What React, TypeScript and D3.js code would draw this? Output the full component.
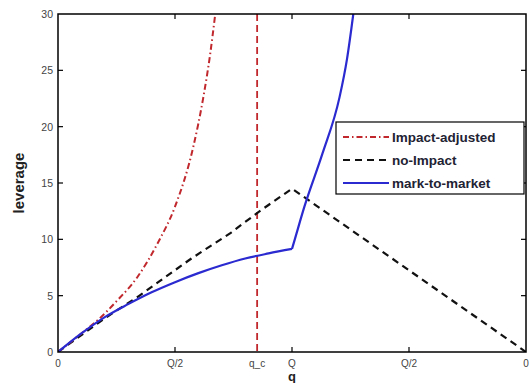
import React from "react";
import * as d3 from "d3";

const xTickValues = [0, 0.5, 0.851, 1, 1.5, 2];
const xTickLabels = ["0", "Q/2", "q_c", "Q", "Q/2", "0"];
const yTickValues = [0, 5, 10, 15, 20, 25, 30];
const qc = 0.851;

const impactX = [0, 0.1, 0.171, 0.25, 0.341, 0.427, 0.5, 0.578, 0.621, 0.65, 0.672];
const impactY = [0, 1.65, 2.85, 4.5, 6.7, 9.7, 12.9, 18.2, 22.6, 26.4, 30];

const noImpactX = [0, 0.2, 0.341, 0.57, 0.74, 0.855, 1, 2];
const noImpactY = [0, 3.0, 4.9, 8.3, 10.6, 12.4, 14.5, 0];

const markX = [0, 0.1, 0.2, 0.3, 0.4, 0.5, 0.6, 0.7, 0.8, 0.9, 1.0, 1.012, 1.053, 1.13, 1.203, 1.235, 1.262];
const markY = [0, 1.65, 3.1, 4.25, 5.3, 6.2, 7.0, 7.7, 8.3, 8.75, 9.15, 10.0, 12.9, 17.6, 22.6, 26.0, 30];

const legendLabels = ["Impact-adjusted", "no-Impact", "mark-to-market"];

const RED = "#c0282d";
const BLUE = "#2a2ad0";

export default function App() {
  const W = 531, H = 383;
  const L = 58, R = 526, T = 14, B = 352;
  const x = d3.scaleLinear().domain([0, 2]).range([L, R]);
  const y = d3.scaleLinear().domain([0, 30]).range([B, T]);
  const zip = (xs: number[], ys: number[]) => xs.map((v, i) => [v, ys[i]] as [number, number]);
  const smooth = d3.line<[number, number]>().x(d => x(d[0])).y(d => y(d[1])).curve(d3.curveMonotoneX);
  const lin = d3.line<[number, number]>().x(d => x(d[0])).y(d => y(d[1]));
  const markPts = zip(markX, markY);
  const kink = markX.indexOf(1.0);
  const markPath = (smooth(markPts.slice(0, kink + 1)) || "") + (smooth(markPts.slice(kink)) || "");
  const font = "Liberation Sans, Arial, sans-serif";
  const tl = 5;
  const lgX = 336, lgY = 122, lgW = 188, lgH = 72;
  const rows = [137, 160, 183];
  const styles = [
    { stroke: RED, dash: "6,3,1.5,3", w: 1.8 },
    { stroke: "#111", dash: "7,5", w: 2 },
    { stroke: BLUE, dash: "", w: 2 },
  ];
  return (
    <svg width={W} height={H} style={{ position: "absolute", left: 0, top: 0, background: "#fff" }}>
      <rect x={0} y={0} width={W} height={H} fill="#fff" />
      <defs>
        <clipPath id="plot">
          <rect x={L} y={T} width={R - L} height={B - T} />
        </clipPath>
      </defs>
      <g clipPath="url(#plot)">
        <line x1={x(qc)} x2={x(qc)} y1={T} y2={B} stroke={RED} strokeWidth={1.8} strokeDasharray="7,4" />
        <path d={lin(zip(noImpactX, noImpactY)) || ""} fill="none" stroke="#111" strokeWidth={2.2} strokeDasharray="7,5" />
        <path d={smooth(zip(impactX, impactY)) || ""} fill="none" stroke={RED} strokeWidth={2} strokeDasharray="6,3,1.5,3" />
        <path d={markPath} fill="none" stroke={BLUE} strokeWidth={2.2} />
      </g>
      <rect x={L} y={T} width={R - L} height={B - T} fill="none" stroke="#000" strokeWidth={1.5} />
      {xTickValues.map((v, i) => (
        <g key={"xt" + i}>
          {v !== 0 && v !== 2 && v !== qc && (
            <>
              <line x1={x(v)} x2={x(v)} y1={B} y2={B - tl} stroke="#000" strokeWidth={1.2} />
              <line x1={x(v)} x2={x(v)} y1={T} y2={T + tl} stroke="#000" strokeWidth={1.2} />
            </>
          )}
          <text x={x(v)} y={367} textAnchor="middle" fontFamily={font} fontSize={10} fill="#444">
            {xTickLabels[i]}
          </text>
        </g>
      ))}
      {yTickValues.map((v, i) => (
        <g key={"yt" + i}>
          {v !== 0 && v !== 30 && (
            <>
              <line x1={L} x2={L + tl} y1={y(v)} y2={y(v)} stroke="#000" strokeWidth={1.2} />
              <line x1={R} x2={R - tl} y1={y(v)} y2={y(v)} stroke="#000" strokeWidth={1.2} />
            </>
          )}
          <text x={53} y={y(v) + 4} textAnchor="end" fontFamily={font} fontSize={10.5} fill="#444">
            {v}
          </text>
        </g>
      ))}
      <text x={x(1)} y={381} textAnchor="middle" fontFamily={font} fontSize={13} fontWeight="bold" fill="#222">q</text>
      <text transform={`translate(24,${183}) rotate(-90)`} textAnchor="middle" fontFamily={font} fontSize={15} fontWeight="bold" fill="#222">leverage</text>
      <rect x={lgX} y={lgY} width={lgW} height={lgH} fill="#fff" stroke="#000" strokeWidth={1.2} />
      {legendLabels.map((lab, i) => (
        <g key={"lg" + i}>
          <line x1={343} x2={389} y1={rows[i]} y2={rows[i]} stroke={styles[i].stroke} strokeWidth={styles[i].w} strokeDasharray={styles[i].dash} />
          <text x={392} y={rows[i] + 5} fontFamily={font} fontSize={13.5} fontWeight="bold" fill="#223">{lab}</text>
        </g>
      ))}
    </svg>
  );
}
